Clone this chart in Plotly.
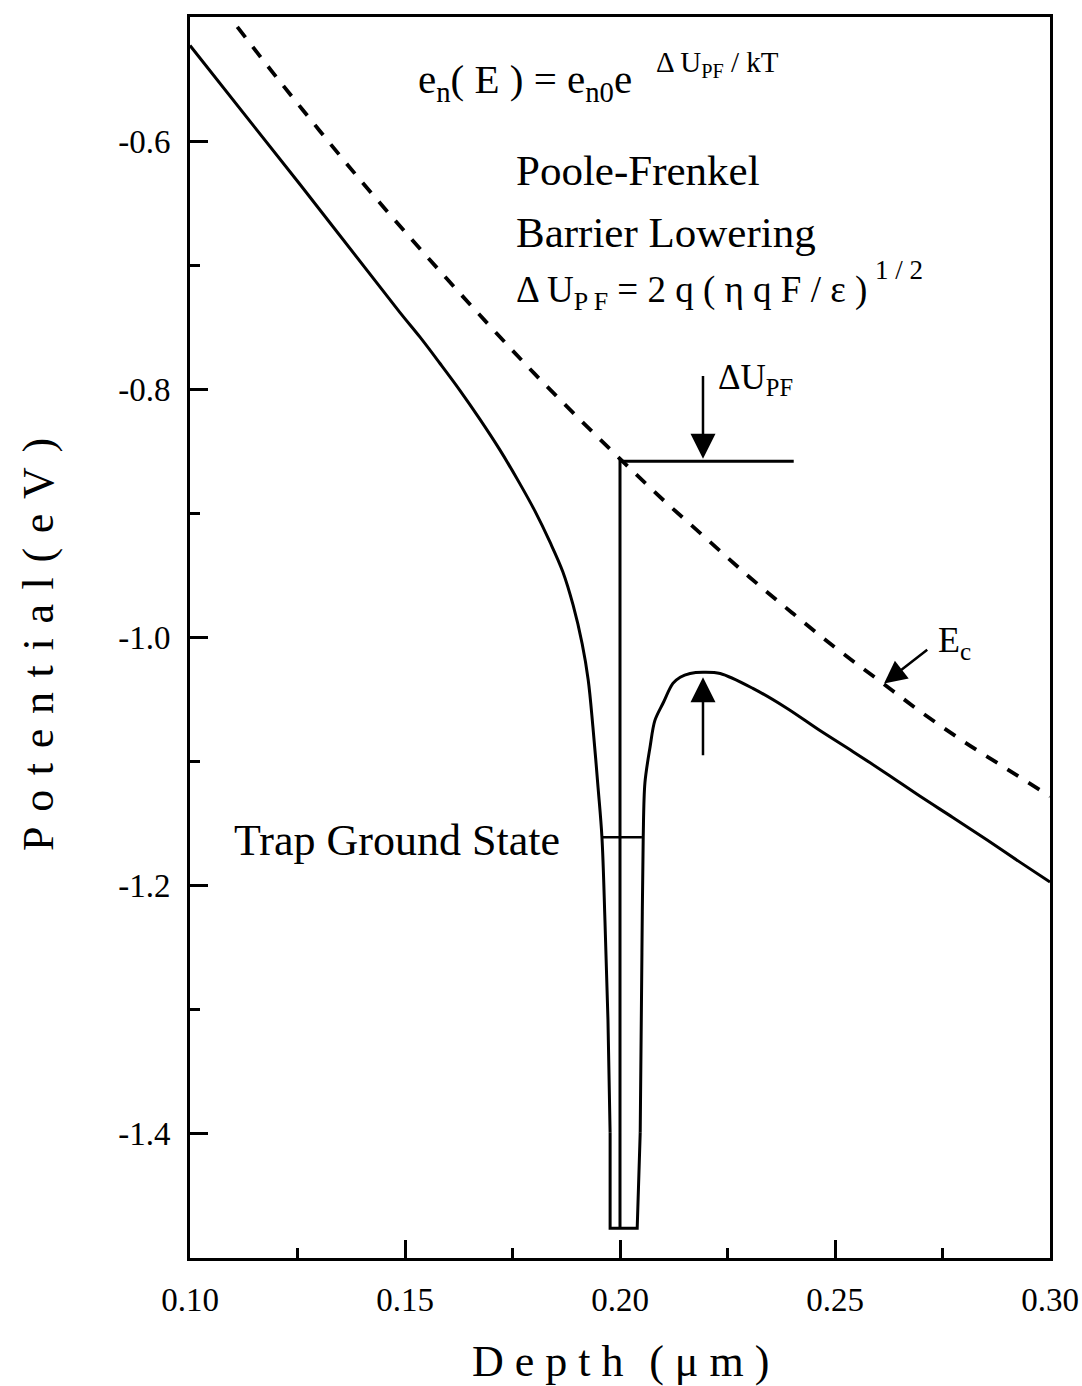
import plotly.graph_objects as go

# Conduction-band potential with a Coulombic trap at 0.20 um (solid)
depth_um = [0.1000, 0.1256, 0.1488, 0.1535, 0.1581, 0.1628, 0.1674, 0.1721,
            0.1767, 0.1802, 0.1837, 0.1867, 0.1891, 0.1912, 0.1926, 0.1937,
            0.1949, 0.1958, 0.1965, 0.1972, 0.1977, 0.1977, 0.2040, 0.2047,
            0.2051, 0.2054, 0.2058, 0.2070, 0.2081, 0.2100, 0.2123, 0.2140,
            0.2163, 0.2193, 0.2233, 0.2309, 0.2388, 0.2465, 0.2542, 0.2621,
            0.2698, 0.2774, 0.2853, 0.2930, 0.3000]
potential_ev = [-0.523, -0.635, -0.738, -0.758, -0.779, -0.801, -0.824, -0.849,
                -0.876, -0.898, -0.923, -0.947, -0.974, -1.005, -1.034, -1.072,
                -1.121, -1.161, -1.228, -1.308, -1.399, -1.476, -1.476, -1.399,
                -1.254, -1.161, -1.117, -1.088, -1.067, -1.053, -1.037, -1.032,
                -1.029, -1.028, -1.029, -1.041, -1.057, -1.075, -1.092, -1.110,
                -1.128, -1.145, -1.163, -1.181, -1.197]

# Unperturbed conduction band edge E_c (dashed)
ec_depth_um = [0.111, 0.12, 0.13, 0.14, 0.15, 0.16, 0.17, 0.18, 0.19, 0.20,
               0.21, 0.22, 0.23, 0.24, 0.25, 0.26, 0.27, 0.28, 0.29, 0.30]
ec_potential_ev = [-0.508, -0.548, -0.591, -0.633, -0.673, -0.712, -0.750,
                   -0.787, -0.822, -0.856, -0.889, -0.920, -0.951, -0.980,
                   -1.008, -1.034, -1.060, -1.084, -1.106, -1.128]

# Trap position marker: level of E_c at the trap and the vertical drop to the well floor
trap_depth_um = 0.200
trap_top_ev = -0.858
trap_floor_ev = -1.476
marker_end_um = 0.2404

# Trap ground-state level across the well
ground_state_ev = -1.161
ground_state_x = [0.1958, 0.2051]

# Tick labels
x_tickvals = [0.10, 0.15, 0.20, 0.25, 0.30]
x_ticktext = ["0.10", "0.15", "0.20", "0.25", "0.30"]
y_tickvals = [-1.4, -1.2, -1.0, -0.8, -0.6]
y_ticktext = ["-1.4", "-1.2", "-1.0", "-0.8", "-0.6"]

SERIF = "Liberation Serif"
W, H = 1082, 1386
L, R, T, B = 190, 32, 17, 128
X0, X1 = 0.10, 0.30
Y0, Y1 = -1.5, -0.5

# Split the solid curve into its smooth branches and the straight-walled well
i_left_end = potential_ev.index(-1.399)       # last smooth point on the left wall
i_right_start = i_left_end + 3                # first smooth point on the right wall


def px2paper(px):
    return (px - L) / (W - L - R)


def py2paper(py):
    return (H - B - py) / (H - T - B)


fig = go.Figure()

fig.add_trace(go.Scatter(
    x=ec_depth_um, y=ec_potential_ev, mode="lines",
    line=dict(color="black", width=3.8, dash="13px,12px", shape="spline"),
    hoverinfo="skip", showlegend=False))

solid = dict(color="black", width=3)
fig.add_trace(go.Scatter(
    x=depth_um[:i_left_end + 1], y=potential_ev[:i_left_end + 1], mode="lines",
    line=dict(solid, shape="spline", smoothing=1.0),
    hoverinfo="skip", showlegend=False))
fig.add_trace(go.Scatter(
    x=depth_um[i_left_end:i_right_start + 1],
    y=potential_ev[i_left_end:i_right_start + 1], mode="lines",
    line=solid, hoverinfo="skip", showlegend=False))
fig.add_trace(go.Scatter(
    x=depth_um[i_right_start:], y=potential_ev[i_right_start:], mode="lines",
    line=dict(solid, shape="spline", smoothing=0.9),
    hoverinfo="skip", showlegend=False))

fig.add_trace(go.Scatter(
    x=[marker_end_um, trap_depth_um, trap_depth_um],
    y=[trap_top_ev, trap_top_ev, trap_floor_ev], mode="lines",
    line=dict(color="black", width=3),
    hoverinfo="skip", showlegend=False))

fig.add_trace(go.Scatter(
    x=ground_state_x, y=[ground_state_ev, ground_state_ev], mode="lines",
    line=dict(color="black", width=2.5),
    hoverinfo="skip", showlegend=False))

annotations = []


def label(text, px, py, size, xanchor="left", angle=0):
    annotations.append(dict(
        text=text, x=px2paper(px), y=py2paper(py), xref="paper", yref="paper",
        xanchor=xanchor, yanchor="middle", showarrow=False, textangle=angle,
        font=dict(family=SERIF, size=size, color="black")))


def arrow(x_tail, y_tail, x_tip, y_tip, size=2.0):
    annotations.append(dict(
        text="", x=x_tip, y=y_tip, ax=x_tail, ay=y_tail,
        xref="x", yref="y", axref="x", ayref="y",
        showarrow=True, arrowhead=2, arrowsize=size, arrowwidth=2.5,
        arrowcolor="black", standoff=0))


# Emission-rate expression
label("e<sub>n</sub>( E ) = e<sub>n0</sub>e", 416, 82, 41)
label("\u0394 U<sub>PF</sub> / kT", 654, 64, 29)

label("Poole-Frenkel", 514, 170, 43)
label("Barrier Lowering", 514, 232, 43)
label("\u0394 U<sub>P F</sub> = 2 q ( \u03b7 q F / \u03b5 )", 514, 292, 37)
label("1 / 2", 873, 270, 27)

label("\u0394U<sub>PF</sub>", 716, 380, 35)
label("E<sub>c</sub>", 936, 642, 36)
label("Trap Ground State", 232, 840, 44)

# Axis titles
label("D e p t h \u2004( \u03bc m )", 620, 1362, 44, xanchor="center")
label("P\u2004o\u2004t\u2004e\u2004n\u2004t\u2004i\u2004a\u2004l\u2004(\u2004e\u2004V\u2004)",
      38, 645, 44, xanchor="center", angle=-90)

# Arrows: barrier-lowering marker, barrier maximum, E_c pointer
arrow(0.2193, -0.788, 0.2193, -0.856)
arrow(0.2193, -1.096, 0.2193, -1.032)
arrow(0.2718, -1.009, 0.2614, -1.037, size=1.8)

axis_common = dict(
    showline=True, linecolor="black", linewidth=3, mirror=True,
    ticks="inside", ticklen=18, tickwidth=2.5, tickcolor="black",
    showgrid=False, zeroline=False, automargin=False,
    tickfont=dict(family=SERIF, size=33, color="black"),
)

fig.update_xaxes(
    range=[X0, X1], tickvals=x_tickvals, ticktext=x_ticktext,
    minor=dict(ticks="inside", ticklen=10, tickwidth=2.5, tickcolor="black",
               dtick=0.025, tick0=0.1, showgrid=False),
    ticklabelstandoff=10,
    **axis_common)
fig.update_yaxes(
    range=[Y0, Y1], tickvals=y_tickvals, ticktext=y_ticktext,
    minor=dict(ticks="inside", ticklen=10, tickwidth=2.5, tickcolor="black",
               dtick=0.1, tick0=-0.6, showgrid=False),
    ticklabelstandoff=10,
    **axis_common)

fig.update_layout(
    width=W, height=H,
    margin=dict(l=L, r=R, t=T, b=B, autoexpand=False),
    paper_bgcolor="white", plot_bgcolor="white",
    annotations=annotations,
    showlegend=False,
)

fig.write_html("out.html")
